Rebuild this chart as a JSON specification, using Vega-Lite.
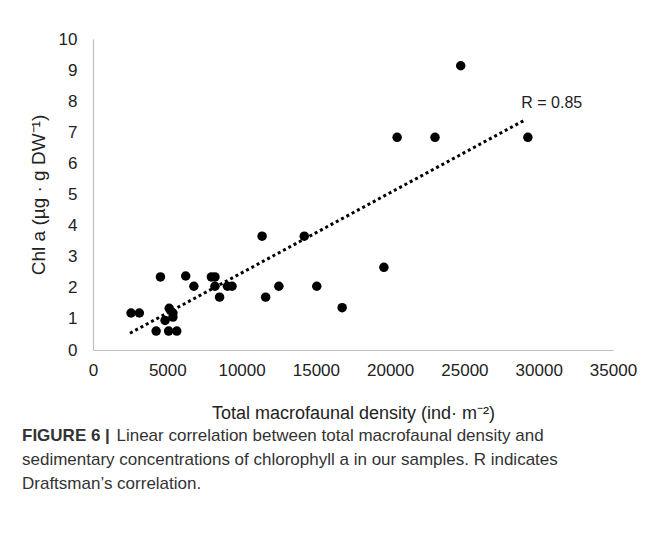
{
  "$schema": "https://vega.github.io/schema/vega-lite/v6.json",
  "width": 520,
  "height": 311,
  "autosize": {"type": "none"},
  "padding": {"left": 93, "top": 39, "right": 44, "bottom": 186},
  "background": "white",
  "config": {
    "view": {"stroke": null},
    "font": "Liberation Sans",
    "axisY": {
      "grid": false, "ticks": false,
      "domainColor": "#bfbfbf", "domainWidth": 1.2,
      "labelFontSize": 17, "labelColor": "#222222", "labelPadding": 16,
      "labelFlush": false, "labelOverlap": false,
      "titleFontSize": 19, "titleFontWeight": "normal", "titleColor": "#222222",
      "titlePadding": 10
    },
    "axisX": {
      "grid": false, "ticks": false,
      "domainColor": "#bfbfbf", "domainWidth": 1.2,
      "labelFontSize": 17, "labelColor": "#222222", "labelPadding": 12,
      "labelFlush": false, "labelOverlap": false,
      "titleFontSize": 18, "titleFontWeight": "normal", "titleColor": "#222222",
      "titlePadding": 26
    }
  },
  "title": {
    "text": "FIGURE 6 |",
    "subtitle": [
      "\u200b\u00a0\u00a0\u00a0\u00a0\u00a0\u00a0\u00a0\u00a0\u00a0\u00a0\u00a0\u00a0\u00a0\u00a0\u00a0\u00a0\u00a0\u00a0\u00a0\u00a0Linear correlation between total macrofaunal density and",
      "sedimentary concentrations of chlorophyll a in our samples. R indicates",
      "Draftsman\u2019s correlation."
    ],
    "orient": "bottom",
    "anchor": "start",
    "frame": "group",
    "dx": -71,
    "offset": 6,
    "fontSize": 17,
    "fontWeight": "bold",
    "color": "#333333",
    "subtitleFontSize": 17,
    "subtitleColor": "#333333",
    "subtitleLineHeight": 24,
    "subtitlePadding": -17
  },
  "encoding": {
    "x": {
      "field": "density", "type": "quantitative",
      "scale": {"domain": [0, 35000], "nice": false},
      "axis": {
        "title": "Total macrofaunal density (ind\u00b7 m\u207b\u00b2)",
        "values": [0, 5000, 10000, 15000, 20000, 25000, 30000, 35000],
        "tickCount": 20,
        "format": "d"
      }
    },
    "y": {
      "field": "chla", "type": "quantitative",
      "scale": {"domain": [0, 10], "nice": false},
      "axis": {
        "title": "Chl a (\u00b5g \u00b7 g DW\u207b\u00b9)",
        "values": [0, 1, 2, 3, 4, 5, 6, 7, 8, 9, 10],
        "tickCount": 20,
        "format": "d"
      }
    }
  },
  "layer": [
    {
      "data": {"values": [
        {"density": 24750, "chla": 9.14},
        {"density": 20470, "chla": 6.84},
        {"density": 23020, "chla": 6.84},
        {"density": 29270, "chla": 6.84},
        {"density": 11380, "chla": 3.66},
        {"density": 14220, "chla": 3.66},
        {"density": 19580, "chla": 2.66},
        {"density": 4540, "chla": 2.35},
        {"density": 6240, "chla": 2.38},
        {"density": 7970, "chla": 2.35},
        {"density": 8210, "chla": 2.35},
        {"density": 6790, "chla": 2.05},
        {"density": 8210, "chla": 2.05},
        {"density": 9050, "chla": 2.05},
        {"density": 9360, "chla": 2.05},
        {"density": 12510, "chla": 2.05},
        {"density": 15060, "chla": 2.05},
        {"density": 8520, "chla": 1.70},
        {"density": 11620, "chla": 1.70},
        {"density": 16770, "chla": 1.36},
        {"density": 2560, "chla": 1.19},
        {"density": 3120, "chla": 1.19},
        {"density": 5130, "chla": 1.34},
        {"density": 5380, "chla": 1.19},
        {"density": 5380, "chla": 1.06},
        {"density": 4850, "chla": 0.95},
        {"density": 4250, "chla": 0.61},
        {"density": 5090, "chla": 0.61},
        {"density": 5640, "chla": 0.61}
      ]},
      "mark": {"type": "point", "filled": true, "shape": "circle", "size": 90, "color": "black", "opacity": 1}
    },
    {
      "data": {"values": [
        {"density": 2490, "chla": 0.54},
        {"density": 29120, "chla": 7.41}
      ]},
      "mark": {"type": "line", "color": "black", "strokeWidth": 3, "strokeDash": [3, 3]}
    },
    {
      "data": {"values": [
        {"density": 28830, "chla": 7.95, "label": "R = 0.85"}
      ]},
      "mark": {"type": "text", "align": "left", "baseline": "middle", "fontSize": 16, "color": "#222222"},
      "encoding": {
        "text": {"field": "label"}
      }
    }
  ]
}
